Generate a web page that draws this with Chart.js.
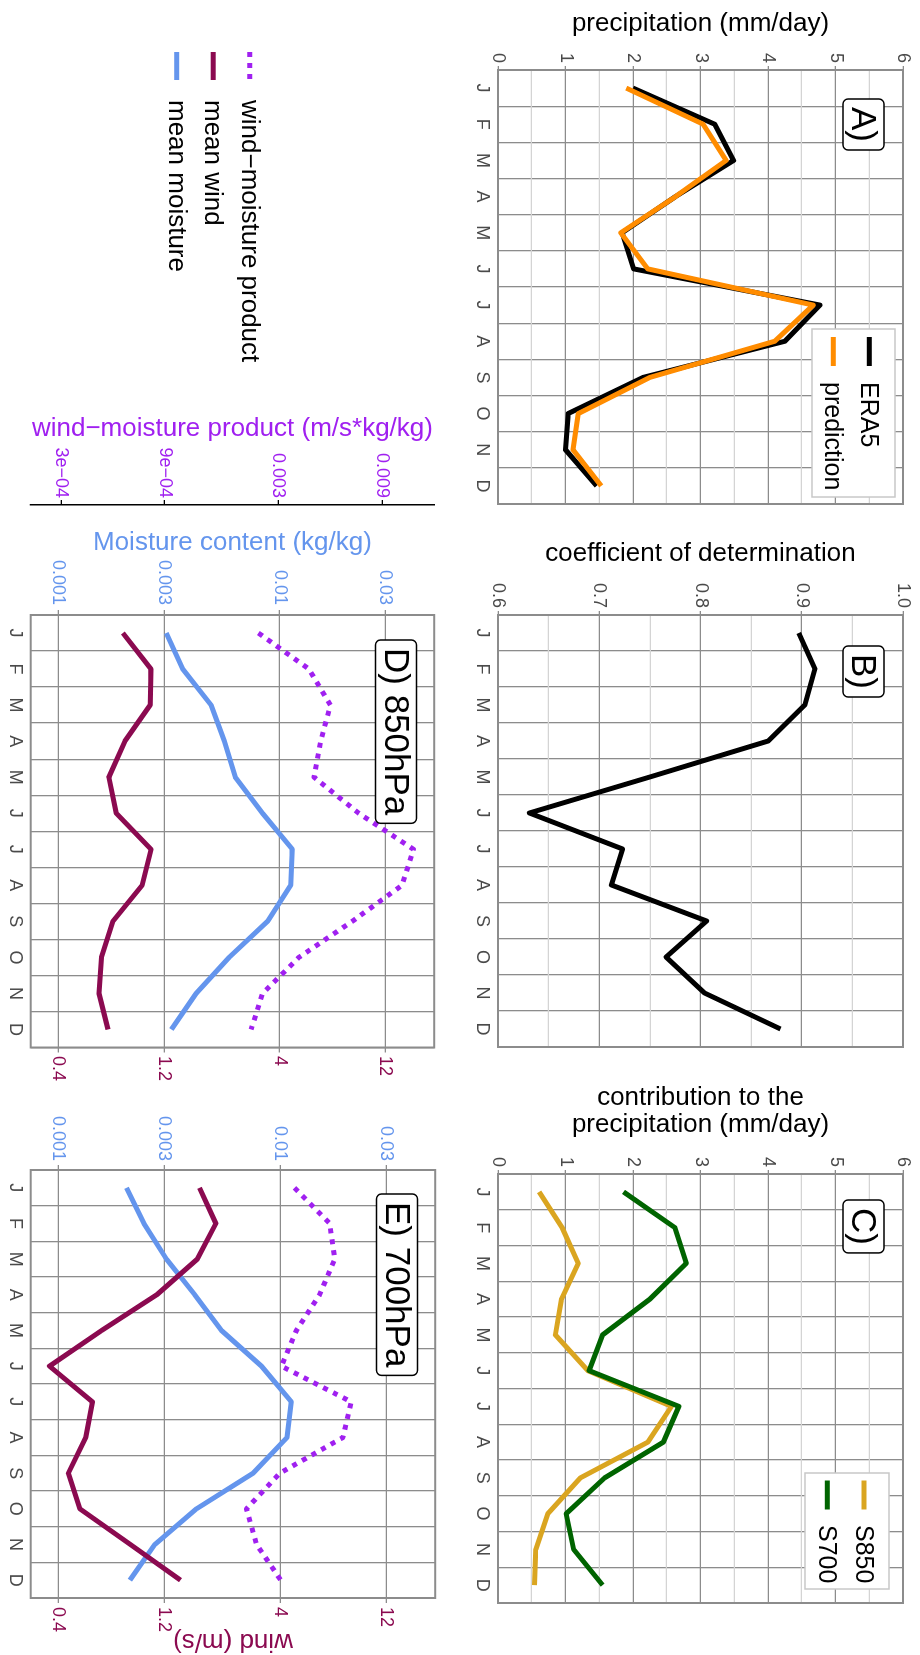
<!DOCTYPE html>
<html>
<head>
<meta charset="utf-8">
<script src="https://cdn.jsdelivr.net/npm/chart.js@4.4.1/dist/chart.umd.min.js"></script>
<style>
html, body { margin: 0; padding: 0; background: #fff; }
body { width: 920px; height: 1655px; overflow: hidden; position: relative; }
/* the figure is laid out landscape and turned a quarter clockwise */
#page { position: absolute; left: 0; top: 0; width: 1655px; height: 920px;
        transform-origin: 0 0; transform: translate(920px, 0) rotate(90deg); }
#page canvas { position: absolute; }
</style>
</head>
<body>
<div id="page">
  <canvas id="chartA" width="530" height="470" style="left:0;top:0"></canvas>
  <canvas id="chartB" width="550" height="470" style="left:530px;top:0"></canvas>
  <canvas id="chartC" width="575" height="470" style="left:1080px;top:0"></canvas>
  <canvas id="chartD" width="1100" height="450" style="left:0;top:470px"></canvas>
  <canvas id="chartE" width="555" height="450" style="left:1100px;top:470px"></canvas>
</div>
<script>
const months = ['J', 'F', 'M', 'A', 'M', 'J', 'J', 'A', 'S', 'O', 'N', 'D'];

// A) precipitation (mm/day)
const era5 = [2.00, 3.21, 3.49, 2.63, 1.84, 2.01, 4.77, 4.25, 2.15, 1.04, 1.00, 1.46];
const prediction = [1.90, 3.04, 3.38, 2.63, 1.82, 2.22, 4.67, 4.10, 2.25, 1.19, 1.11, 1.53];
// B) coefficient of determination
const r2 = [0.897, 0.913, 0.903, 0.867, 0.750, 0.631, 0.723, 0.712, 0.806, 0.766, 0.804, 0.879];
// C) contribution to the precipitation
const s850 = [0.61, 0.95, 1.19, 0.94, 0.85, 1.33, 2.57, 2.22, 1.22, 0.74, 0.56, 0.54];
const s700 = [1.86, 2.62, 2.79, 2.25, 1.55, 1.35, 2.68, 2.45, 1.58, 1.01, 1.12, 1.55];
// D) 850hPa
const prod850 = [0.00243, 0.00415, 0.00521, 0.00470, 0.00438, 0.00703, 0.01256, 0.01112, 0.00656, 0.00373, 0.00254, 0.00225];
const wind850 = [0.783, 1.05, 1.04, 0.80, 0.677, 0.731, 1.05, 0.957, 0.706, 0.627, 0.611, 0.671];
const moist850 = [0.00307, 0.00365, 0.00490, 0.00562, 0.00630, 0.00836, 0.01140, 0.01120, 0.00881, 0.00591, 0.00419, 0.00324];
// E) 700hPa
const prod700 = [0.00354, 0.00513, 0.00541, 0.00461, 0.00361, 0.00308, 0.00644, 0.00590, 0.00303, 0.00213, 0.00237, 0.00306];
const wind700 = [1.73, 2.05, 1.69, 1.11, 0.627, 0.365, 0.570, 0.532, 0.444, 0.500, 0.845, 1.42];
const moist700 = [0.00203, 0.00243, 0.00307, 0.00412, 0.00543, 0.00822, 0.01120, 0.01071, 0.00754, 0.00419, 0.00272, 0.00210];

// ticks
const precipTicks = [0, 1, 2, 3, 4, 5, 6];
const r2Ticks = [0.6, 0.7, 0.8, 0.9, 1.0];
const r2Labels = ['0.6', '0.7', '0.8', '0.9', '1.0'];
const moistTicks = [0.001, 0.003, 0.01, 0.03];
const moistLabels = ['0.001', '0.003', '0.01', '0.03'];
const windTicks = [0.4, 1.2, 4, 12];
const windLabels = ['0.4', '1.2', '4', '12'];
const prodTicks = [3e-4, 9e-4, 0.003, 0.009];
const prodLabels = ['3e\u221204', '9e\u221204', '0.003', '0.009'];

const FONT = '"Liberation Sans", Arial, Helvetica, sans-serif';
const majorGrid = '#8c8c8c';
const minorGrid = '#d4d4d4';
const tickGray = '#4a4a4a';
const moistColor = '#6495ED';
const windColor = '#8B0A50';
const prodColor = '#A020F0';
const LW = 5;

Chart.defaults.font.family = FONT;
Chart.defaults.animation = false;

// --- plugins ---

const framePlugin = {
    id: 'frame',
    beforeDatasetsDraw(chart) {
        const a = chart.chartArea, ctx = chart.ctx;
        ctx.save();
        ctx.strokeStyle = majorGrid;
        ctx.lineWidth = 2;
        ctx.strokeRect(a.left, a.top, a.right - a.left, a.bottom - a.top);
        ctx.restore();
    }
};

const tagPlugin = {
    id: 'tag',
    afterDatasetsDraw(chart, args, opts) {
        if (!opts.text) return;
        const a = chart.chartArea, ctx = chart.ctx;
        const x = a.left + opts.dx, y = a.top + opts.dy;
        ctx.save();
        ctx.font = '35px ' + FONT;
        const w = ctx.measureText(opts.text).width + 16;
        ctx.beginPath();
        ctx.roundRect(x, y, w, 41, 5);
        ctx.fillStyle = '#fff';
        ctx.fill();
        ctx.lineWidth = 1.5;
        ctx.strokeStyle = '#000';
        ctx.stroke();
        ctx.fillStyle = '#000';
        ctx.textBaseline = 'middle';
        ctx.fillText(opts.text, x + 8, y + 22);
        ctx.restore();
    }
};

const keyPlugin = {
    id: 'key',
    afterDatasetsDraw(chart, args, opts) {
        if (!opts.display) return;
        const a = chart.chartArea, ctx = chart.ctx;
        let x, y;
        if (opts.boxed) {
            x = a.right - opts.right - opts.width;
            y = a.top + opts.top;
        } else {
            x = opts.x;
            y = opts.y;
        }
        ctx.save();
        if (opts.boxed) {
            ctx.fillStyle = '#fff';
            ctx.fillRect(x, y, opts.width, opts.height);
            ctx.strokeStyle = '#c8c8c8';
            ctx.lineWidth = 1.5;
            ctx.strokeRect(x, y, opts.width, opts.height);
        }
        chart.data.datasets.forEach((ds, i) => {
            const cy = y + opts.rowTop + i * opts.rowGap;
            ctx.strokeStyle = ds.borderColor;
            ctx.lineWidth = ds.borderWidth;
            ctx.lineCap = 'butt';
            ctx.setLineDash(ds.borderDash || []);
            ctx.beginPath();
            ctx.moveTo(x + opts.lineFrom, cy);
            ctx.lineTo(x + opts.lineTo, cy);
            ctx.stroke();
            ctx.setLineDash([]);
            ctx.fillStyle = '#000';
            ctx.font = opts.fontSize + 'px ' + FONT;
            ctx.textBaseline = 'middle';
            ctx.fillText(ds.label, x + opts.textX, cy + 1);
        });
        ctx.restore();
    }
};

// --- axis helpers ---

function monthAxis(height) {
    return {
        type: 'category',
        position: 'bottom',
        offset: true,
        grid: { offset: true, color: majorGrid, lineWidth: 1.3, drawTicks: false },
        border: { display: false },
        ticks: { color: tickGray, font: { size: 18 }, padding: 5, maxRotation: 0, autoSkip: false },
        afterFit(s) { s.height = height; }
    };
}

function near(list, v) {
    return list.findIndex(t => Math.abs(t - v) < 1e-6);
}

function linearAxis(min, max, step, ticks, labels, title, width, titlePad) {
    return {
        type: 'linear',
        position: 'left',
        min: min,
        max: max,
        ticks: {
            stepSize: step, autoSkip: false, color: tickGray, font: { size: 18 }, padding: 3,
            callback: v => {
                const i = near(ticks, v);
                return i < 0 ? '' : labels[i];
            }
        },
        grid: {
            lineWidth: 1.3, tickLength: 4,
            color: c => near(ticks, c.tick.value) < 0 ? minorGrid : majorGrid,
            tickColor: c => near(ticks, c.tick.value) < 0 ? 'rgba(0,0,0,0)' : majorGrid
        },
        border: { display: false },
        title: {
            display: true, text: title, color: '#000',
            font: { size: 26, lineHeight: 1.02 }, padding: { top: titlePad, bottom: 0 }
        },
        afterFit(s) { s.width = width; }
    };
}

function logAxis(opt) {
    return {
        type: 'logarithmic',
        position: opt.position,
        display: opt.display !== false,
        weight: opt.weight || 0,
        min: opt.min,
        max: opt.max,
        bounds: 'data',
        afterBuildTicks(s) { s.ticks = opt.ticks.map(v => ({ value: v })); },
        ticks: {
            autoSkip: false, color: opt.color, font: { size: 18 }, padding: opt.pad,
            callback: v => {
                const i = near(opt.ticks, v);
                return i < 0 ? '' : opt.labels[i];
            }
        },
        grid: {
            drawOnChartArea: !!opt.gridOn, color: majorGrid, lineWidth: 1.3,
            tickLength: 5, tickColor: opt.tickColor || majorGrid
        },
        border: opt.border ? { display: true, color: '#000', width: 1.5 } : { display: false },
        title: opt.title ? {
            display: true, text: opt.title, color: opt.color,
            font: { size: 26, lineHeight: 1.02 }, padding: { top: opt.titlePad, bottom: 0 }
        } : { display: false },
        afterFit(s) { s.width = opt.width; }
    };
}

function lineSet(label, data, color, extra) {
    return Object.assign({
        label: label, data: data, borderColor: color, backgroundColor: color,
        borderWidth: LW, pointRadius: 0, tension: 0, fill: false,
        borderCapStyle: 'butt', borderJoinStyle: 'round'
    }, extra || {});
}

const basePlugins = { legend: { display: false }, tooltip: { enabled: false } };

// --- A ---
new Chart(document.getElementById('chartA'), {
    type: 'line',
    data: {
        labels: months,
        datasets: [
            lineSet('ERA5', era5, '#000000', { order: 1 }),
            lineSet('prediction', prediction, '#FF8C00', { order: 0 })
        ]
    },
    options: {
        responsive: false, events: [],
        layout: { padding: { left: 0, top: 17, right: 26, bottom: 0 } },
        scales: {
            x: monthAxis(48),
            y: linearAxis(0, 6, 0.5, precipTicks, precipTicks.map(String), 'precipitation (mm/day)', 70, 10.75)
        },
        plugins: Object.assign({}, basePlugins, {
            tag: { text: 'A)', dx: 29, dy: 19 },
            key: { display: true, boxed: true, right: 7, top: 8, width: 168, height: 83,
                   rowTop: 25.7, rowGap: 36, lineFrom: 8, lineTo: 37, textX: 53, fontSize: 25 }
        })
    },
    plugins: [framePlugin, tagPlugin, keyPlugin]
});

// --- B ---
new Chart(document.getElementById('chartB'), {
    type: 'line',
    data: {
        labels: months,
        datasets: [lineSet('R2', r2, '#000000')]
    },
    options: {
        responsive: false, events: [],
        layout: { padding: { left: 0, top: 17, right: 33, bottom: 0 } },
        scales: {
            x: monthAxis(48),
            y: linearAxis(0.6, 1.0, 0.05, r2Ticks, r2Labels, 'coefficient of determination', 85, 10.75)
        },
        plugins: Object.assign({}, basePlugins, {
            tag: { text: 'B)', dx: 31, dy: 19 },
            key: { display: false }
        })
    },
    plugins: [framePlugin, tagPlugin, keyPlugin]
});

// --- C ---
new Chart(document.getElementById('chartC'), {
    type: 'line',
    data: {
        labels: months,
        datasets: [
            lineSet('S850', s850, '#DAA520', { order: 1 }),
            lineSet('S700', s700, '#006400', { order: 0 })
        ]
    },
    options: {
        responsive: false, events: [],
        layout: { padding: { left: 0, top: 17, right: 52, bottom: 0 } },
        scales: {
            x: monthAxis(48),
            y: linearAxis(0, 6, 0.5, precipTicks, precipTicks.map(String),
                ['contribution to the', 'precipitation (mm/day)'], 94, 4.75)
        },
        plugins: Object.assign({}, basePlugins, {
            tag: { text: 'C)', dx: 26, dy: 19 },
            key: { display: true, boxed: true, right: 14, top: 14, width: 116, height: 84,
                   rowTop: 25, rowGap: 36.7, lineFrom: 7.5, lineTo: 36.5, textX: 52, fontSize: 25 }
        })
    },
    plugins: [framePlugin, tagPlugin, keyPlugin]
});

// shared log ranges for D and E
const moistMin = 7.51e-4, moistMax = 0.0498;
const windMin = 0.3004, windMax = 19.93;
const prodMin = 2.179e-4, prodMax = 0.01564;

function levelSets(prod, wind, moist) {
    return [
        lineSet('wind\u2212moisture product', prod, prodColor, { yAxisID: 'yP', borderDash: [5, 6] }),
        lineSet('mean wind', wind, windColor, { yAxisID: 'yW' }),
        lineSet('mean moisture', moist, moistColor, { yAxisID: 'yM' })
    ];
}

// --- D ---
new Chart(document.getElementById('chartD'), {
    type: 'line',
    data: { labels: months, datasets: levelSets(prod850, wind850, moist850) },
    options: {
        responsive: false, events: [],
        layout: { padding: { left: 400, top: 14.3, right: 0, bottom: 0 } },
        scales: {
            x: monthAxis(30.7),
            yM: logAxis({ position: 'left', weight: 0, min: moistMin, max: moistMax, ticks: moistTicks,
                labels: moistLabels, color: moistColor, pad: 5, gridOn: true, width: 110,
                title: 'Moisture content (kg/kg)', titlePad: 24.25 }),
            yP: logAxis({ position: 'left', weight: 1, min: prodMin, max: prodMax, ticks: prodTicks,
                labels: prodLabels, color: prodColor, pad: 2, tickColor: '#000', border: true, width: 105,
                title: 'wind\u2212moisture product (m/s*kg/kg)', titlePad: 15.75 }),
            yW: logAxis({ position: 'right', min: windMin, max: windMax, ticks: windTicks,
                labels: windLabels, color: windColor, pad: 3.5, width: 52.5 })
        },
        plugins: Object.assign({}, basePlugins, {
            tag: { text: 'D) 850hPa', dx: 25, dy: 17.7 },
            key: { display: true, boxed: false, x: 0, y: 200.3, rowTop: 0, rowGap: 36.5,
                   lineFrom: 52, lineTo: 80, textX: 100, fontSize: 26 }
        })
    },
    plugins: [framePlugin, tagPlugin, keyPlugin]
});

// --- E ---
new Chart(document.getElementById('chartE'), {
    type: 'line',
    data: { labels: months, datasets: levelSets(prod700, wind700, moist700) },
    options: {
        responsive: false, events: [],
        layout: { padding: { left: 0, top: 14.3, right: 0, bottom: 0 } },
        scales: {
            x: monthAxis(30.7),
            yM: logAxis({ position: 'left', weight: 0, min: moistMin, max: moistMax, ticks: moistTicks,
                labels: moistLabels, color: moistColor, pad: 4, gridOn: true, width: 70 }),
            yP: logAxis({ position: 'left', display: false, min: prodMin, max: prodMax, ticks: prodTicks,
                labels: prodLabels, color: prodColor, pad: 2, width: 0 }),
            yW: logAxis({ position: 'right', min: windMin, max: windMax, ticks: windTicks,
                labels: windLabels, color: windColor, pad: 4, width: 57,
                title: 'wind (m/s)', titlePad: 0.75 })
        },
        plugins: Object.assign({}, basePlugins, {
            tag: { text: 'E) 700hPa', dx: 24, dy: 17.7 },
            key: { display: false }
        })
    },
    plugins: [framePlugin, tagPlugin, keyPlugin]
});
</script>
</body>
</html>
